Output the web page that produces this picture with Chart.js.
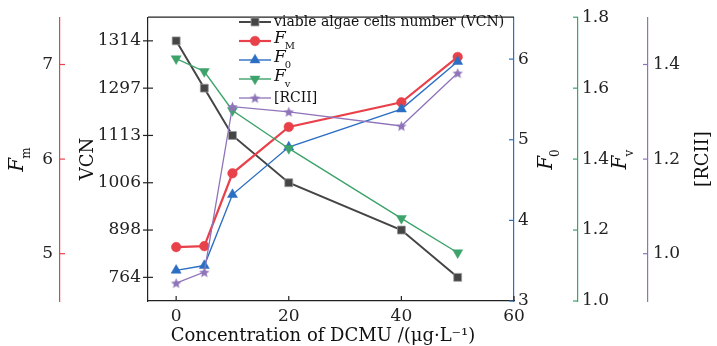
<!DOCTYPE html>
<html>
<head>
<meta charset="utf-8">
<script src="https://cdn.jsdelivr.net/npm/chart.js@4.4.0/dist/chart.umd.min.js"></script>
<style>
  body { margin: 0; background: #fff; }
</style>
</head>
<body>
<canvas id="my-chart" width="717" height="346"></canvas>
<script>
'use strict';

// ************** Data ***************

let concentration = [0, 5, 10, 20, 40, 50];
let vcnValues = [1314, 1297, 1113, 1006, 898, 764];
let fmValues = [5.07, 5.08, 5.85, 6.34, 6.60, 7.08];
let f0Values = [3.38, 3.44, 4.32, 4.91, 5.38, 5.97];
let fvValues = [1.683, 1.647, 1.537, 1.43, 1.233, 1.136];
let rciiValues = [0.938, 0.961, 1.311, 1.300, 1.270, 1.382];

let xTicks = [0, 20, 40, 60];
let vcnTicks = [1314, 1297, 1113, 1006, 898, 764]; // top to bottom, evenly spaced
let fmTicks = [5, 6, 7];
let f0Ticks = [3, 4, 5, 6];
let fvTicks = [1.0, 1.2, 1.4, 1.6, 1.8];
let rciiTicks = [1.0, 1.2, 1.4];

// ************** Styles ***************

const SERIF = '"DejaVu Serif", "Liberation Serif", serif';
const RED = '#e8414a';
const BLUE = '#2c6fc2';
const GREEN = '#3da36b';
const PURPLE = '#8f74b9';
const DARK = '#454545';

function toPoints(values) {
  let pts = [];
  for (let i = 0; i < values.length; i++) {
    pts.push({ x: concentration[i], y: values[i] });
  }
  return pts;
}

function makeStar(color, r) {
  let c = document.createElement('canvas');
  let size = Math.ceil(r * 2) + 2;
  c.width = size;
  c.height = size;
  let g = c.getContext('2d');
  g.fillStyle = color;
  g.beginPath();
  for (let i = 0; i < 10; i++) {
    let rad = i % 2 === 0 ? r : r * 0.45;
    let a = -Math.PI / 2 + i * Math.PI / 5;
    let px = size / 2 + rad * Math.cos(a);
    let py = size / 2 + 0.6 + rad * Math.sin(a);
    if (i === 0) g.moveTo(px, py); else g.lineTo(px, py);
  }
  g.closePath();
  g.fill();
  return c;
}

let starImg = makeStar(PURPLE, 5.5);

function setTicks(list) {
  return function(scale) {
    scale.ticks = list.map(v => ({ value: v }));
  };
}

function fixWidth(w) {
  return function(scale) {
    scale.width = w;
  };
}

function axis(position, weight, width, min, max, tickList, color, pad, digits) {
  return {
    type: 'linear',
    position: position,
    weight: weight,
    min: min,
    max: max,
    afterBuildTicks: setTicks(tickList),
    afterFit: fixWidth(width),
    grid: { display: false, drawTicks: false },
    border: { display: true, color: color, width: 1.2 },
    ticks: {
      padding: pad,
      color: '#222',
      font: { family: SERIF, size: 17 },
      callback: v => digits ? Number(v).toFixed(digits) : String(v)
    }
  };
}

// ************** Custom drawing (ticks, frame, titles, legend) ***************

// draws main text with an optional subscript; centred unless alignLeft
function subText(ctx, x, y, main, sub, rotate, size, alignLeft) {
  ctx.save();
  ctx.translate(x, y);
  if (rotate) ctx.rotate(-Math.PI / 2);
  ctx.fillStyle = '#111';
  ctx.textBaseline = 'middle';
  let mainFont = (sub ? 'italic ' : '') + size + 'px ' + SERIF;
  let subFont = Math.round(size * 0.6) + 'px ' + SERIF;
  ctx.font = mainFont;
  let w1 = ctx.measureText(main).width;
  ctx.font = subFont;
  let w2 = sub ? ctx.measureText(sub).width : 0;
  let start = alignLeft ? 0 : -(w1 + w2) / 2;
  ctx.font = mainFont;
  ctx.textAlign = 'left';
  ctx.fillText(main, start, 0);
  if (sub) {
    ctx.font = subFont;
    ctx.fillText(sub, start + w1 - 1, size * 0.42);
  }
  ctx.restore();
}

let tickMarks = [
  { id: 'fm', edge: 'right', from: 0, to: 5, color: RED },
  { id: 'vcn', edge: 'right', from: -5, to: 5, color: '#222' },
  { id: 'f0', edge: 'left', from: 0, to: -5, color: BLUE },
  { id: 'fv', edge: 'left', from: 0, to: -5, color: GREEN },
  { id: 'rcii', edge: 'left', from: 0, to: -5, color: PURPLE }
];

let chartDecor = {
  id: 'chartDecor',
  afterDraw(chart) {
    let ctx = chart.ctx;
    let area = chart.chartArea;
    let s = chart.scales;

    ctx.save();
    ctx.lineWidth = 1.2;

    // tick marks
    tickMarks.forEach(t => {
      let sc = s[t.id];
      let ex = t.edge === 'right' ? sc.right : sc.left;
      ctx.strokeStyle = t.color;
      sc.ticks.forEach((tk, i) => {
        let py = sc.getPixelForTick(i);
        ctx.beginPath();
        ctx.moveTo(ex + t.from, py);
        ctx.lineTo(ex + t.to, py);
        ctx.stroke();
      });
    });
    ctx.strokeStyle = '#222';
    s.x.ticks.forEach((tk, i) => {
      let px = s.x.getPixelForTick(i);
      ctx.beginPath();
      ctx.moveTo(px, area.bottom);
      ctx.lineTo(px, area.bottom - 5);
      ctx.stroke();
    });

    // top frame
    ctx.beginPath();
    ctx.moveTo(area.left, area.top);
    ctx.lineTo(area.right, area.top);
    ctx.stroke();
    ctx.restore();

    // axis titles
    let midY = (area.top + area.bottom) / 2;
    subText(ctx, s.fm.left + 18, midY, 'F', 'm', true, 20);
    subText(ctx, s.vcn.left + 28, midY, 'VCN', '', true, 18);
    subText(ctx, s.f0.left + 33, midY, 'F', '0', true, 20);
    subText(ctx, s.fv.left + 43, midY, 'F', 'v', true, 20);
    subText(ctx, s.rcii.left + 55, midY, '[RCII]', '', true, 18);
    subText(ctx, (area.left + area.right) / 2 - 8, 336,
      'Concentration of DCMU /(\u03bcg\u00b7L\u207b\u00b9)', '', false, 18);

    // legend
    let legendNames = [
      ['viable algae cells number (VCN)', ''],
      ['F', 'M'],
      ['F', '0'],
      ['F', 'v'],
      ['[RCII]', '']
    ];
    chart.data.datasets.forEach((ds, i) => {
      let y = 22 + i * 19;
      ctx.save();
      ctx.strokeStyle = ds.borderColor;
      ctx.lineWidth = ds.borderWidth;
      ctx.beginPath();
      ctx.moveTo(239, y);
      ctx.lineTo(271, y);
      ctx.stroke();
      ctx.fillStyle = ds.pointBackgroundColor;
      ctx.strokeStyle = ds.pointBorderColor;
      ctx.lineWidth = ds.pointBorderWidth;
      Chart.helpers.drawPoint(ctx, {
        pointStyle: ds.pointStyle,
        rotation: ds.pointRotation || 0,
        radius: ds.pointRadius,
        borderWidth: ds.pointBorderWidth
      }, 255, y);
      ctx.restore();
      let name = legendNames[i];
      if (name[1]) {
        subText(ctx, 274, y - 2, name[0], name[1], false, 17, true);
      } else {
        subText(ctx, 274, y, name[0], '', false, 14, true);
      }
    });
  }
};

// ************** Chart ***************

let ctx = document.getElementById('my-chart').getContext('2d');

let myChartObject = {
  type: 'line',
  data: {
    datasets: [{
      label: 'viable algae cells number (VCN)',
      data: toPoints(vcnValues),
      yAxisID: 'vcn',
      order: 5,
      borderColor: DARK,
      borderWidth: 2,
      pointStyle: 'rect',
      pointRadius: 5.6,
      pointBackgroundColor: DARK,
      pointBorderColor: '#9a9a9a',
      pointBorderWidth: 0.8
    }, {
      label: 'FM',
      data: toPoints(fmValues),
      yAxisID: 'fm',
      order: 4,
      borderColor: RED,
      borderWidth: 2.2,
      pointStyle: 'circle',
      pointRadius: 4.8,
      pointBackgroundColor: RED,
      pointBorderColor: RED,
      pointBorderWidth: 0.5
    }, {
      label: 'F0',
      data: toPoints(f0Values),
      yAxisID: 'f0',
      order: 3,
      borderColor: BLUE,
      borderWidth: 1.4,
      pointStyle: 'triangle',
      pointRadius: 5.8,
      pointBackgroundColor: BLUE,
      pointBorderColor: BLUE,
      pointBorderWidth: 0.5
    }, {
      label: 'Fv',
      data: toPoints(fvValues),
      yAxisID: 'fv',
      order: 2,
      borderColor: GREEN,
      borderWidth: 1.4,
      pointStyle: 'triangle',
      pointRotation: 180,
      pointRadius: 5.8,
      pointBackgroundColor: GREEN,
      pointBorderColor: GREEN,
      pointBorderWidth: 0.5
    }, {
      label: '[RCII]',
      data: toPoints(rciiValues),
      yAxisID: 'rcii',
      order: 1,
      borderColor: PURPLE,
      borderWidth: 1.3,
      pointStyle: starImg,
      pointRadius: 5.5,
      pointBackgroundColor: PURPLE,
      pointBorderColor: PURPLE,
      pointBorderWidth: 0
    }]
  },
  options: {
    responsive: false,
    animation: false,
    devicePixelRatio: 1,
    layout: { padding: { top: 16, left: 0, right: 0, bottom: 0 } },
    plugins: {
      legend: { display: false },
      tooltip: { enabled: false }
    },
    scales: {
      x: {
        type: 'linear',
        min: -5,
        max: 60,
        afterBuildTicks: setTicks(xTicks),
        afterFit: function(scale) { scale.height = 45; },
        grid: { display: false, drawTicks: false },
        border: { display: true, color: '#222', width: 1.2 },
        ticks: {
          padding: 5,
          color: '#222',
          font: { family: SERIF, size: 17 },
          maxRotation: 0
        }
      },
      fm: axis('left', 1, 60, 4.5, 7.5, fmTicks, RED, 7, 0),
      vcn: {
        type: 'category',
        position: 'left',
        weight: 0,
        labels: vcnTicks,
        offset: true,
        afterFit: fixWidth(88),
        grid: { display: false, drawTicks: false },
        border: { display: true, color: '#222', width: 1.2 },
        ticks: {
          padding: 7,
          color: '#222',
          autoSkip: false,
          font: { family: SERIF, size: 17 }
        }
      },
      f0: axis('right', 0, 64, 3, 6.52, f0Ticks, BLUE, 4, 0),
      fv: axis('right', 1, 70, 1.0, 1.8, fvTicks, GREEN, 4, 1),
      rcii: axis('right', 2, 69, 0.9, 1.5, rciiTicks, PURPLE, 5, 1)
    }
  },
  plugins: [chartDecor]
};

new Chart(ctx, myChartObject);
</script>
</body>
</html>
